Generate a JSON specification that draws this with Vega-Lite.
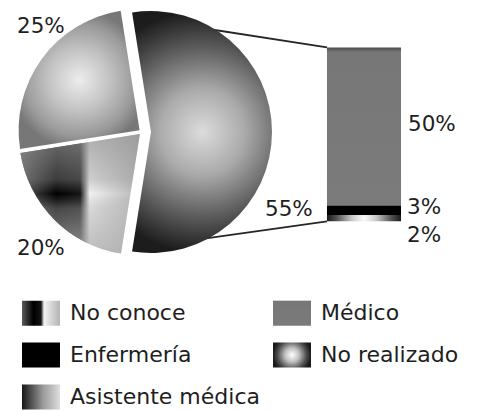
{
  "$schema": "https://vega.github.io/schema/vega-lite/v6.json",
  "width": 481,
  "height": 411,
  "padding": 0,
  "autosize": {"type": "none"},
  "background": "#ffffff",
  "datasets": {
    "torta": [
      {"tipo": "No conoce", "pct": 0.20},
      {"tipo": "Asistente médica", "pct": 0.25},
      {"tipo": "Otro", "pct": 0.55}
    ],
    "barra": [
      {"tipo": "Médico", "pct": 0.50},
      {"tipo": "Enfermería", "pct": 0.03},
      {"tipo": "No realizado", "pct": 0.02}
    ]
  },
  "layer": [
    {
      "data": {"values": [{}]},
      "mark": {"type": "rule", "color": "#262626", "strokeWidth": 1.8},
      "encoding": {
        "x": {"datum": 40.96, "type": "quantitative", "scale": {"domain": [0, 100]}},
        "y": {"datum": 0.6138, "type": "quantitative", "scale": {"domain": [-0.55, 0.685]}},
        "x2": {"datum": 67.98},
        "y2": {"datum": 0.55}
      }
    },
    {
      "data": {"values": [{}]},
      "mark": {"type": "rule", "color": "#262626", "strokeWidth": 1.8},
      "encoding": {
        "x": {"datum": 40.96, "type": "quantitative"},
        "y": {"datum": -0.058, "type": "quantitative"},
        "x2": {"datum": 67.98},
        "y2": {"datum": 0}
      }
    },
    {
      "data": {"name": "torta"},
      "transform": [
        {"stack": "pct", "groupby": [], "sort": [{"field": "pct", "order": "ascending"}], "as": ["p0", "p1"]},
        {"filter": "datum.tipo === 'Otro'"}
      ],
      "mark": {
        "type": "arc", "outerRadius": 121, "innerRadius": 0, "xOffset": 9,
        "fill": {"gradient": "radial", "x1": 0.5, "y1": 0.5, "r1": 0, "x2": 0.5, "y2": 0.5, "r2": 0.5,
          "stops": [
            {"offset": 0, "color": "#dcdcdc"},
            {"offset": 0.35, "color": "#ababab"},
            {"offset": 0.7, "color": "#5c5c5c"},
            {"offset": 1, "color": "#1c1c1c"}
          ]}
      },
      "encoding": {
        "x": {"datum": 29.52, "type": "quantitative"},
        "y": {"datum": 0.2825, "type": "quantitative"},
        "theta": {"field": "p0", "type": "quantitative", "scale": {"domain": [0, 1], "range": [3.2987, 9.5819]}},
        "theta2": {"field": "p1"}
      }
    },
    {
      "data": {"name": "torta"},
      "transform": [
        {"stack": "pct", "groupby": [], "sort": [{"field": "pct", "order": "ascending"}], "as": ["p0", "p1"]},
        {"filter": "datum.tipo === 'Asistente médica'"}
      ],
      "mark": {
        "type": "arc", "outerRadius": 121, "innerRadius": 0, "xOffset": -2.4, "yOffset": -1.8,
        "fill": {"gradient": "radial", "x1": 0.5, "y1": 0.5, "r1": 0, "x2": 0.5, "y2": 0.5, "r2": 0.5,
          "stops": [
            {"offset": 0, "color": "#ededed"},
            {"offset": 0.45, "color": "#c2c2c2"},
            {"offset": 0.8, "color": "#9a9a9a"},
            {"offset": 1, "color": "#777777"}
          ]}
      },
      "encoding": {
        "x": {"datum": 29.52, "type": "quantitative"},
        "y": {"datum": 0.2825, "type": "quantitative"},
        "theta": {"field": "p0", "type": "quantitative"},
        "theta2": {"field": "p1"}
      }
    },
    {
      "data": {"name": "torta"},
      "transform": [
        {"stack": "pct", "groupby": [], "sort": [{"field": "pct", "order": "ascending"}], "as": ["p0", "p1"]},
        {"filter": "datum.tipo === 'No conoce'"}
      ],
      "mark": {
        "type": "arc", "outerRadius": 121, "innerRadius": 0, "xOffset": -2.1, "yOffset": 2.1,
        "fill": {"gradient": "linear", "x1": 0, "y1": 0, "x2": 1, "y2": 0,
          "stops": [
            {"offset": 0, "color": "#5a5a5a"},
            {"offset": 0.3, "color": "#000000"},
            {"offset": 0.5, "color": "#141414"},
            {"offset": 0.58, "color": "#f2f2f2"},
            {"offset": 1, "color": "#b4b4b4"}
          ]}
      },
      "encoding": {
        "x": {"datum": 29.52, "type": "quantitative"},
        "y": {"datum": 0.2825, "type": "quantitative"},
        "theta": {"field": "p0", "type": "quantitative"},
        "theta2": {"field": "p1"}
      }
    },
    {
      "data": {"name": "torta"},
      "transform": [
        {"stack": "pct", "groupby": [], "sort": [{"field": "pct", "order": "ascending"}], "as": ["p0", "p1"]},
        {"filter": "datum.tipo === 'No conoce'"}
      ],
      "mark": {
        "type": "arc", "outerRadius": 121, "innerRadius": 0, "xOffset": -2.1, "yOffset": 2.1,
        "fill": {"gradient": "linear", "x1": 0, "y1": 0, "x2": 0, "y2": 1,
          "stops": [
            {"offset": 0, "color": "rgba(150,150,150,0.75)"},
            {"offset": 0.38, "color": "rgba(150,150,150,0.4)"},
            {"offset": 0.5, "color": "rgba(150,150,150,0)"},
            {"offset": 0.62, "color": "rgba(175,175,175,0.4)"},
            {"offset": 1, "color": "rgba(175,175,175,0.8)"}
          ]}
      },
      "encoding": {
        "x": {"datum": 29.52, "type": "quantitative"},
        "y": {"datum": 0.2825, "type": "quantitative"},
        "theta": {"field": "p0", "type": "quantitative"},
        "theta2": {"field": "p1"}
      }
    },
    {
      "data": {"name": "barra"},
      "transform": [
        {"stack": "pct", "groupby": [], "sort": [{"field": "pct", "order": "ascending"}], "as": ["b0", "b1"]}
      ],
      "mark": {"type": "bar", "strokeWidth": 0},
      "encoding": {
        "x": {"datum": 67.98, "type": "quantitative"},
        "x2": {"datum": 83.37},
        "y": {"field": "b0", "type": "quantitative"},
        "y2": {"field": "b1"},
        "fill": {
          "field": "tipo",
          "type": "nominal",
          "scale": {
            "domain": ["No conoce", "Enfermería", "Asistente médica", "Médico", "No realizado"],
            "range": [
              {"expr": "{gradient: 'linear', x1: 0, y1: 0, x2: 1, y2: 0, stops: [{offset: 0, color: '#5a5a5a'}, {offset: 0.3, color: '#000000'}, {offset: 0.5, color: '#141414'}, {offset: 0.58, color: '#f2f2f2'}, {offset: 1, color: '#b4b4b4'}]}"},
              "#000000",
              {"expr": "{gradient: 'linear', x1: 0, y1: 0, x2: 1, y2: 0, stops: [{offset: 0, color: '#161616'}, {offset: 0.55, color: '#9a9a9a'}, {offset: 1, color: '#dedede'}]}"},
              {"expr": "{gradient: 'linear', x1: 0, y1: 0, x2: 0, y2: 1, stops: [{offset: 0, color: '#4a4a4a'}, {offset: 0.03, color: '#777777'}, {offset: 1, color: '#7b7b7b'}]}"},
              {"expr": "{gradient: 'radial', x1: 0.5, y1: 0.5, r1: 0, x2: 0.5, y2: 0.5, r2: 0.5, stops: [{offset: 0, color: '#ffffff'}, {offset: 0.35, color: '#c4c4c4'}, {offset: 0.75, color: '#505050'}, {offset: 1, color: '#1a1a1a'}]}"}
            ]
          },
          "legend": {
            "orient": "none",
            "legendX": 22,
            "legendY": 294,
            "title": null,
            "columns": 2,
            "gridAlign": "each",
            "columnPadding": 13,
            "rowPadding": 10,
            "symbolType": "M-1,-0.66L1,-0.66L1,0.66L-1,0.66Z",
            "symbolSize": 1444,
            "symbolStrokeWidth": 0,
            "symbolOpacity": 1,
            "labelFont": "DejaVu Sans",
            "labelFontSize": 22,
            "labelColor": "#1e1e1e",
            "labelOffset": 10,
            "labelLimit": 300,
            "padding": 0
          }
        }
      }
    },
    {
      "data": {"name": "torta"},
      "transform": [{"filter": "datum.tipo === 'Asistente médica'"}],
      "mark": {"type": "text", "align": "left", "baseline": "alphabetic", "font": "DejaVu Sans", "fontSize": 21.5, "color": "#1e1e1e"},
      "encoding": {
        "x": {"datum": 3.53, "type": "quantitative"},
        "y": {"datum": 0.5951, "type": "quantitative"},
        "text": {"field": "pct", "type": "quantitative", "format": ".0%"}
      }
    },
    {
      "data": {"name": "torta"},
      "transform": [{"filter": "datum.tipo === 'No conoce'"}],
      "mark": {"type": "text", "align": "left", "baseline": "alphabetic", "font": "DejaVu Sans", "fontSize": 21.5, "color": "#1e1e1e"},
      "encoding": {
        "x": {"datum": 3.53, "type": "quantitative"},
        "y": {"datum": -0.1052, "type": "quantitative"},
        "text": {"field": "pct", "type": "quantitative", "format": ".0%"}
      }
    },
    {
      "data": {"name": "torta"},
      "transform": [{"filter": "datum.tipo === 'Otro'"}],
      "mark": {"type": "text", "align": "left", "baseline": "alphabetic", "font": "DejaVu Sans", "fontSize": 21.5, "color": "#1e1e1e"},
      "encoding": {
        "x": {"datum": 55.09, "type": "quantitative"},
        "y": {"datum": 0.018, "type": "quantitative"},
        "text": {"field": "pct", "type": "quantitative", "format": ".0%"}
      }
    },
    {
      "data": {"name": "barra"},
      "transform": [{"filter": "datum.tipo === 'Médico'"}],
      "mark": {"type": "text", "align": "left", "baseline": "alphabetic", "font": "DejaVu Sans", "fontSize": 21.5, "color": "#1e1e1e"},
      "encoding": {
        "x": {"datum": 84.82, "type": "quantitative"},
        "y": {"datum": 0.2855, "type": "quantitative"},
        "text": {"field": "pct", "type": "quantitative", "format": ".0%"}
      }
    },
    {
      "data": {"name": "barra"},
      "transform": [{"filter": "datum.tipo === 'Enfermería'"}],
      "mark": {"type": "text", "align": "left", "baseline": "alphabetic", "font": "DejaVu Sans", "fontSize": 21.5, "color": "#1e1e1e"},
      "encoding": {
        "x": {"datum": 84.62, "type": "quantitative"},
        "y": {"datum": 0.024, "type": "quantitative"},
        "text": {"field": "pct", "type": "quantitative", "format": ".0%"}
      }
    },
    {
      "data": {"name": "barra"},
      "transform": [{"filter": "datum.tipo === 'No realizado'"}],
      "mark": {"type": "text", "align": "left", "baseline": "alphabetic", "font": "DejaVu Sans", "fontSize": 21.5, "color": "#1e1e1e"},
      "encoding": {
        "x": {"datum": 84.62, "type": "quantitative"},
        "y": {"datum": -0.0661, "type": "quantitative"},
        "text": {"field": "pct", "type": "quantitative", "format": ".0%"}
      }
    }
  ],
  "config": {
    "view": {"stroke": null},
    "axis": {"disable": true}
  }
}
